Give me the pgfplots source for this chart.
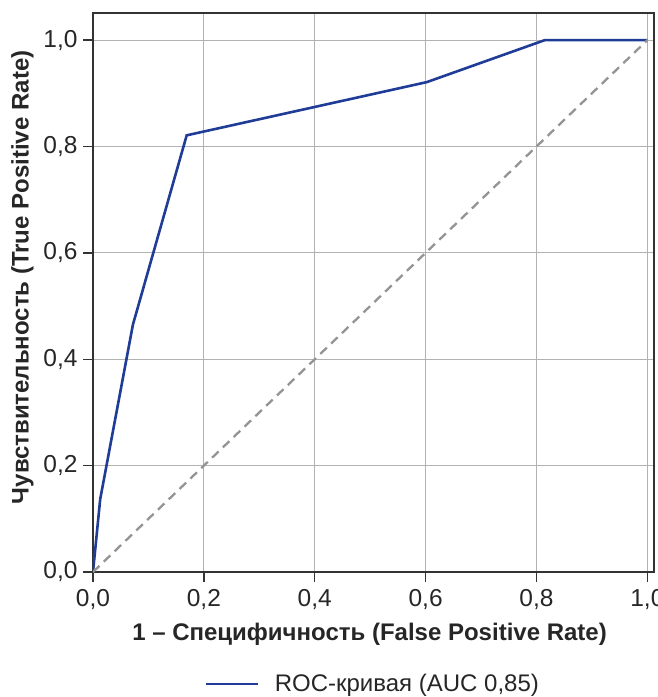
\documentclass[border=0pt]{standalone}
\usepackage{pgfplots}
\pgfplotsset{compat=1.18}
\usepackage{fontspec}
\setmainfont{Liberation Sans}
\definecolor{roc}{HTML}{1F3C96}
\definecolor{txt}{HTML}{262626}
\begin{document}
\begin{tikzpicture}
\useasboundingbox (-93pt,-125pt) rectangle (564pt,572pt);
\begin{axis}[
  scale only axis, width=561pt, height=559pt,
  xmin=0, xmax=1.012, ymin=0, ymax=1.051,
  xtick={0,0.2,0.4,0.6,0.8,1.0}, ytick={0,0.2,0.4,0.6,0.8,1.0},
  grid=major, grid style={color=black!30, line width=1.1pt},
  axis line style={color=black!80, line width=1.3pt},
  tick style={color=black!80, line width=1.3pt},
  tick align=outside, major tick length=10pt,
  xtick pos=bottom, ytick pos=left,
  /pgf/number format/.cd, use comma, fixed, fixed zerofill, precision=1, assume math mode=true,
  /pgfplots/.cd,
  ticklabel style={font=\fontsize{24.5}{29}\selectfont, text=txt},
  xticklabel style={yshift=-4pt},
  yticklabel style={xshift=-2pt},
  xlabel={1 – Специфичность (False Positive Rate)},
  ylabel={Чувствительность (True Positive Rate)},
  label style={font=\bfseries\fontsize{24}{28}\selectfont, text=txt},
  xlabel style={at={(axis description cs:0.4929,0)}, anchor=center, yshift=-62pt},
  ylabel style={at={(axis description cs:-0.1257,0.527)}, anchor=center},
  legend style={at={(axis description cs:0.5036,0)}, anchor=center, yshift=-112pt, draw=none, fill=none,
    font=\fontsize{24}{28}\selectfont, text=txt, inner sep=0pt,
    nodes={inner xsep=7pt}},
  legend cell align=left,
  legend image code/.code={\draw[#1] (0pt,0pt) -- (52pt,0pt); \path (60pt,0pt);},
]
\addplot[roc, line width=2.6pt] coordinates {
 (0,0) (0.013,0.137) (0.072,0.465) (0.169,0.821) (0.602,0.921) (0.815,1.0) (1.0,1.0)
};
\addlegendentry{ROC-кривая (AUC 0,85)}
\addplot[black!42, line width=2.3pt, dash pattern=on 9pt off 6pt, forget plot] coordinates {(0,0) (1,1)};
\end{axis}
\end{tikzpicture}
\end{document}
